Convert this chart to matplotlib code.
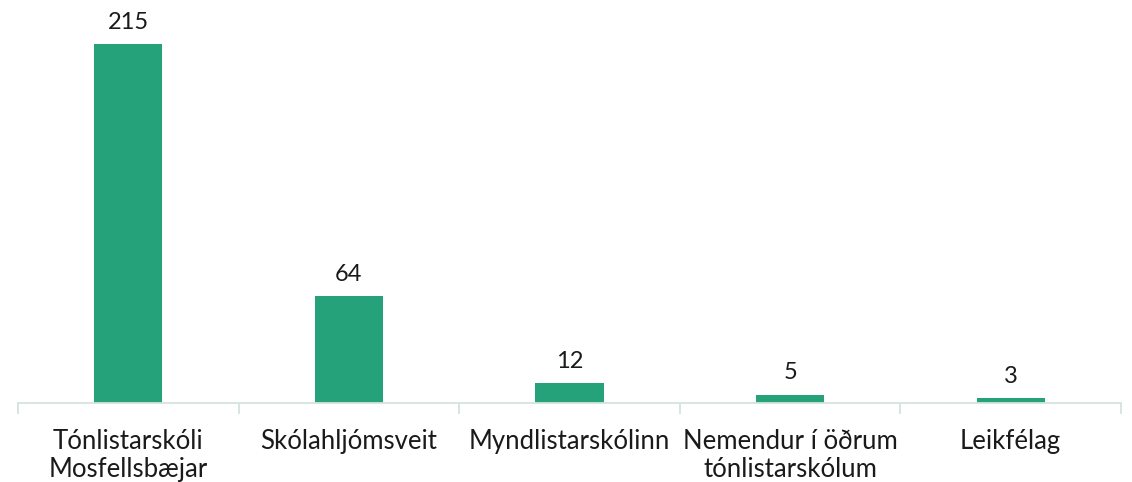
import matplotlib.pyplot as plt
from matplotlib.ticker import FixedLocator

categories = ["Tónlistarskóli\nMosfellsbæjar", "Skólahljómsveit", "Myndlistarskólinn",
              "Nemendur í öðrum\ntónlistarskólum", "Leikfélag"]
values = [215, 64, 12, 5, 3]

bar_color = "#26A27A"
axis_color = "#D5E3DC"
text_color = "#1A1A1A"

plt.rcParams["font.family"] = ["Lato", "DejaVu Sans"]

fig = plt.figure(figsize=(11.32, 4.82), dpi=100)
ax = fig.add_axes([0.0159, 0.164, 0.9744, 0.8315])

x = range(len(categories))
bars = ax.bar(x, values, width=0.31, color=bar_color)

for xi, v in zip(x, values):
    ax.annotate(str(v), (xi, v), xytext=(0, 8), textcoords="offset points",
                ha="center", va="bottom", fontsize=17, color=text_color)

ax.set_xlim(-0.5, len(categories) - 0.5)
ax.set_ylim(0, 240)
ax.set_yticks([])
ax.set_xticks(list(x))
ax.set_xticklabels(categories, fontsize=18.5, color=text_color, linespacing=1.15)
ax.tick_params(axis="x", which="major", length=0, pad=19)
ax.xaxis.set_minor_locator(FixedLocator([i - 0.5 for i in range(len(categories) + 1)]))
ax.tick_params(axis="x", which="minor", length=8, width=1.3, color=axis_color)

for side in ["left", "right", "top"]:
    ax.spines[side].set_visible(False)
ax.spines["bottom"].set_color(axis_color)
ax.spines["bottom"].set_linewidth(1.3)

fig.savefig("out.png", dpi=100)
